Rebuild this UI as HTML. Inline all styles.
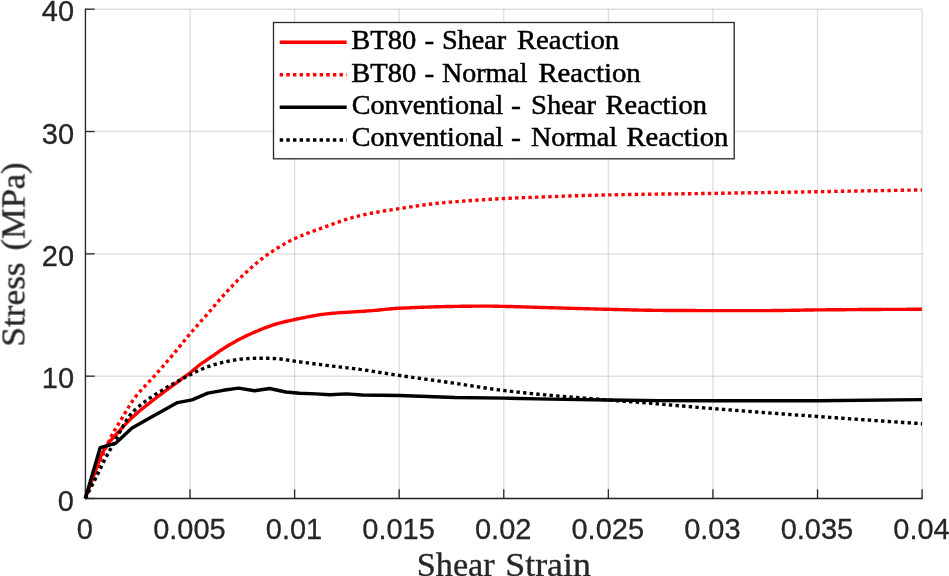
<!DOCTYPE html>
<html lang="en"><head><meta charset="utf-8"><title>Stress vs Shear Strain</title>
<style>
html,body{margin:0;padding:0;background:#fff;}
body{width:949px;height:576px;overflow:hidden;}
svg{display:block;}
.tick{font-family:"Liberation Sans",Arial,Helvetica,sans-serif;font-size:29px;fill:#262626;stroke:#262626;stroke-width:.3px;}
.lab{font-family:"Liberation Serif","Times New Roman",serif;font-size:34.7px;fill:#262626;stroke:#262626;stroke-width:.35px;}
.leg{font-family:"Liberation Serif","Times New Roman",serif;font-size:27.7px;fill:#000;stroke:#000;stroke-width:.5px;}
</style></head><body>
<svg width="949" height="576" viewBox="0 0 949 576">
<rect width="949" height="576" fill="#fff"/>
<g stroke="#262626" stroke-opacity=".15" stroke-width="1.4" fill="none">
<line x1="85.45" y1="9.2" x2="85.45" y2="498.5"/>
<line x1="190.03" y1="9.2" x2="190.03" y2="498.5"/>
<line x1="294.61" y1="9.2" x2="294.61" y2="498.5"/>
<line x1="399.19" y1="9.2" x2="399.19" y2="498.5"/>
<line x1="503.77" y1="9.2" x2="503.77" y2="498.5"/>
<line x1="608.36" y1="9.2" x2="608.36" y2="498.5"/>
<line x1="712.94" y1="9.2" x2="712.94" y2="498.5"/>
<line x1="817.52" y1="9.2" x2="817.52" y2="498.5"/>
<line x1="922.10" y1="9.2" x2="922.10" y2="498.5"/>
<line x1="85.45" y1="498.50" x2="922.1" y2="498.50"/>
<line x1="85.45" y1="376.18" x2="922.1" y2="376.18"/>
<line x1="85.45" y1="253.85" x2="922.1" y2="253.85"/>
<line x1="85.45" y1="131.52" x2="922.1" y2="131.52"/>
<line x1="85.45" y1="9.20" x2="922.1" y2="9.20"/>
</g>
<g stroke="#262626" stroke-width="1.3" fill="none" stroke-linecap="square">
<line x1="85.45" y1="9.2" x2="85.45" y2="498.5"/>
<line x1="85.45" y1="498.5" x2="922.1" y2="498.5"/>
</g>
<g stroke="#262626" stroke-width="1.3" fill="none">
<line x1="85.45" y1="498.5" x2="85.45" y2="489.30"/>
<line x1="190.03" y1="498.5" x2="190.03" y2="489.30"/>
<line x1="294.61" y1="498.5" x2="294.61" y2="489.30"/>
<line x1="399.19" y1="498.5" x2="399.19" y2="489.30"/>
<line x1="503.77" y1="498.5" x2="503.77" y2="489.30"/>
<line x1="608.36" y1="498.5" x2="608.36" y2="489.30"/>
<line x1="712.94" y1="498.5" x2="712.94" y2="489.30"/>
<line x1="817.52" y1="498.5" x2="817.52" y2="489.30"/>
<line x1="922.10" y1="498.5" x2="922.10" y2="489.30"/>
<line x1="85.45" y1="498.50" x2="94.65" y2="498.50"/>
<line x1="85.45" y1="376.18" x2="94.65" y2="376.18"/>
<line x1="85.45" y1="253.85" x2="94.65" y2="253.85"/>
<line x1="85.45" y1="131.52" x2="94.65" y2="131.52"/>
<line x1="85.45" y1="9.20" x2="94.65" y2="9.20"/>
</g>
<clipPath id="c"><rect x="82.45" y="9.2" width="839.65" height="492.3"/></clipPath>
<g clip-path="url(#c)" fill="none" stroke-linejoin="round">
<path d="M85.30,498.40 L87.40,492.63 L89.49,486.90 L91.59,481.21 L93.69,475.57 L95.79,469.97 L96.00,469.40 L97.88,464.15 L99.98,458.26 L102.08,453.15 L102.60,452.10 L104.18,449.33 L106.27,446.18 L108.37,443.37 L108.50,443.20 L110.47,440.73 L112.56,438.30 L114.66,435.99 L116.76,433.76 L118.86,431.54 L120.00,430.30 L120.95,429.26 L123.05,426.94 L125.15,424.64 L127.24,422.38 L129.34,420.21 L131.30,418.30 L131.44,418.17 L133.54,416.23 L135.63,414.36 L137.73,412.54 L139.83,410.78 L141.93,409.05 L144.02,407.36 L146.12,405.70 L148.22,404.05 L150.31,402.42 L152.41,400.78 L154.51,399.15 L154.70,399.00 L156.61,397.52 L158.70,395.92 L160.80,394.34 L162.90,392.78 L165.00,391.23 L167.09,389.69 L169.19,388.15 L171.29,386.60 L172.10,386.00 L173.38,385.05 L175.48,383.53 L177.58,382.01 L179.68,380.51 L181.77,378.99 L183.87,377.47 L185.97,375.92 L188.06,374.34 L189.80,373.00 L190.16,372.72 L192.26,371.00 L194.36,369.21 L196.45,367.43 L198.55,365.71 L200.00,364.60 L200.65,364.13 L202.75,362.68 L204.84,361.30 L206.80,360.00 L206.94,359.91 L209.04,358.47 L211.13,357.02 L213.23,355.56 L215.33,354.09 L217.43,352.63 L219.52,351.19 L221.62,349.78 L223.72,348.40 L225.82,347.07 L227.90,345.80 L227.91,345.79 L230.01,344.56 L232.11,343.35 L234.20,342.16 L236.30,340.99 L238.40,339.86 L240.50,338.75 L242.59,337.68 L244.69,336.64 L246.79,335.64 L248.60,334.80 L248.88,334.67 L250.98,333.73 L253.08,332.79 L255.18,331.87 L257.27,330.97 L259.37,330.09 L261.47,329.22 L263.57,328.39 L265.66,327.58 L267.76,326.79 L269.86,326.04 L271.95,325.33 L274.05,324.64 L276.15,324.00 L276.50,323.90 L278.25,323.40 L280.34,322.83 L282.44,322.28 L284.54,321.77 L286.64,321.27 L288.73,320.79 L290.83,320.33 L292.93,319.89 L294.80,319.50 L295.02,319.45 L297.12,319.02 L299.22,318.59 L301.32,318.16 L303.41,317.73 L305.51,317.30 L307.61,316.89 L309.71,316.48 L311.80,316.09 L313.90,315.71 L316.00,315.35 L318.09,315.01 L320.19,314.68 L322.29,314.38 L324.39,314.11 L326.48,313.86 L328.00,313.70 L328.58,313.64 L330.68,313.44 L332.77,313.26 L334.87,313.08 L336.97,312.92 L339.07,312.76 L341.16,312.62 L343.26,312.48 L345.36,312.35 L347.46,312.22 L349.55,312.09 L351.65,311.97 L353.75,311.85 L355.84,311.73 L357.94,311.61 L360.04,311.48 L362.14,311.35 L364.23,311.21 L366.33,311.07 L368.43,310.92 L370.00,310.80 L370.53,310.76 L372.62,310.59 L374.72,310.40 L376.82,310.20 L378.91,310.00 L381.01,309.79 L383.11,309.59 L385.21,309.38 L387.30,309.18 L389.40,308.99 L391.50,308.81 L393.59,308.64 L395.69,308.49 L397.79,308.36 L398.90,308.30 L399.89,308.25 L401.98,308.14 L404.08,308.04 L406.18,307.94 L408.28,307.84 L410.37,307.75 L412.47,307.66 L414.57,307.57 L416.66,307.48 L418.76,307.39 L420.86,307.31 L422.96,307.23 L425.05,307.15 L427.15,307.08 L429.25,307.01 L431.35,306.94 L433.44,306.88 L435.54,306.82 L437.64,306.76 L439.73,306.70 L441.83,306.65 L443.93,306.60 L446.03,306.55 L448.12,306.51 L450.22,306.47 L452.32,306.44 L454.41,306.41 L454.80,306.40 L456.51,306.38 L458.61,306.35 L460.71,306.32 L462.80,306.29 L464.90,306.26 L467.00,306.24 L469.10,306.21 L471.19,306.19 L473.29,306.17 L475.39,306.15 L477.48,306.13 L479.58,306.12 L481.68,306.11 L483.78,306.10 L485.87,306.10 L486.50,306.10 L487.97,306.10 L490.07,306.12 L492.17,306.15 L494.26,306.19 L496.36,306.23 L498.46,306.28 L500.55,306.33 L502.65,306.38 L503.80,306.40 L504.75,306.42 L506.85,306.47 L508.94,306.52 L511.04,306.57 L513.14,306.62 L515.23,306.68 L517.33,306.73 L519.43,306.79 L521.53,306.85 L523.62,306.92 L525.72,306.98 L527.82,307.04 L529.92,307.11 L532.01,307.17 L534.11,307.24 L536.21,307.30 L538.30,307.36 L540.40,307.43 L542.50,307.49 L544.60,307.55 L546.69,307.61 L548.79,307.67 L549.70,307.70 L550.89,307.73 L552.99,307.79 L555.08,307.85 L557.18,307.91 L559.28,307.97 L561.37,308.03 L563.47,308.09 L565.57,308.15 L567.67,308.21 L569.76,308.27 L571.86,308.33 L573.96,308.39 L576.05,308.45 L578.15,308.51 L580.25,308.57 L582.35,308.62 L584.44,308.68 L586.54,308.74 L588.64,308.80 L590.74,308.85 L592.83,308.91 L594.93,308.97 L597.03,309.02 L599.12,309.08 L601.22,309.13 L603.32,309.18 L605.42,309.23 L607.51,309.28 L608.20,309.30 L609.61,309.33 L611.71,309.39 L613.81,309.44 L615.90,309.49 L618.00,309.55 L620.10,309.60 L622.19,309.66 L624.29,309.71 L626.39,309.77 L628.49,309.82 L630.58,309.88 L632.68,309.93 L634.78,309.98 L636.87,310.03 L638.97,310.08 L641.07,310.12 L643.17,310.17 L645.26,310.21 L647.36,310.24 L649.46,310.28 L651.56,310.31 L653.65,310.34 L655.75,310.36 L657.85,310.38 L659.94,310.40 L660.00,310.40 L662.04,310.41 L664.14,310.43 L666.24,310.44 L668.33,310.45 L670.43,310.46 L672.53,310.48 L674.63,310.49 L676.72,310.50 L678.82,310.51 L680.92,310.52 L683.01,310.53 L685.11,310.54 L687.21,310.55 L689.31,310.55 L691.40,310.56 L693.50,310.57 L695.60,310.57 L697.69,310.58 L699.79,310.58 L701.89,310.59 L703.99,310.59 L706.08,310.60 L708.18,310.60 L710.28,310.60 L712.38,310.60 L713.00,310.60 L714.47,310.60 L716.57,310.60 L718.67,310.60 L720.76,310.60 L722.86,310.60 L724.96,310.60 L727.06,310.60 L729.15,310.60 L731.25,310.60 L733.35,310.60 L735.45,310.60 L737.54,310.60 L739.64,310.60 L741.74,310.60 L743.83,310.60 L745.93,310.60 L748.03,310.60 L750.13,310.60 L752.22,310.60 L754.32,310.60 L756.42,310.60 L758.52,310.60 L760.61,310.60 L762.71,310.60 L764.81,310.60 L766.50,310.60 L766.90,310.60 L769.00,310.60 L771.10,310.59 L773.20,310.57 L775.29,310.56 L777.39,310.53 L779.49,310.51 L781.58,310.48 L783.68,310.45 L785.78,310.42 L787.88,310.38 L789.97,310.34 L792.07,310.30 L794.17,310.27 L796.27,310.23 L798.36,310.19 L800.46,310.15 L802.56,310.11 L804.65,310.07 L806.75,310.04 L808.85,310.01 L810.95,309.98 L813.04,309.95 L815.14,309.92 L817.24,309.90 L817.70,309.90 L819.34,309.89 L821.43,309.87 L823.53,309.85 L825.63,309.83 L827.72,309.82 L829.82,309.80 L831.92,309.78 L834.02,309.76 L836.11,309.75 L838.21,309.73 L840.31,309.71 L842.40,309.69 L844.50,309.68 L846.60,309.66 L848.70,309.65 L850.79,309.63 L852.89,309.61 L854.99,309.60 L857.09,309.58 L859.18,309.57 L861.28,309.55 L863.38,309.54 L865.47,309.52 L867.57,309.51 L869.67,309.50 L871.77,309.48 L873.86,309.47 L875.96,309.46 L878.06,309.45 L880.16,309.43 L882.25,309.42 L884.35,309.41 L886.45,309.40 L888.54,309.39 L890.64,309.38 L892.74,309.37 L894.84,309.36 L896.93,309.35 L899.03,309.35 L901.13,309.34 L903.22,309.33 L905.32,309.33 L907.42,309.32 L909.52,309.32 L911.61,309.31 L913.71,309.31 L915.81,309.31 L917.91,309.30 L920.00,309.30 L922.10,309.30" stroke="#ff0000" stroke-width="3.4"/>
<path d="M85.30,498.40 L87.40,492.97 L89.49,487.60 L91.59,482.31 L93.69,477.12 L95.79,472.01 L96.00,471.50 L97.88,466.95 L99.98,461.84 L102.08,456.77 L104.18,451.77 L106.27,446.92 L108.37,442.27 L110.47,437.89 L112.10,434.70 L112.56,433.84 L114.66,430.18 L116.76,426.78 L118.86,423.45 L120.00,421.60 L120.95,420.02 L123.05,416.46 L125.15,412.86 L127.24,409.29 L129.34,405.82 L131.44,402.53 L133.54,399.49 L133.90,399.00 L135.63,396.73 L137.73,394.13 L139.83,391.68 L141.93,389.33 L144.02,387.05 L146.12,384.83 L148.22,382.62 L150.31,380.41 L152.41,378.15 L154.51,375.82 L154.70,375.60 L156.61,373.43 L158.70,371.05 L160.80,368.66 L162.90,366.27 L165.00,363.86 L167.09,361.45 L169.19,359.01 L171.29,356.56 L172.10,355.60 L173.38,354.08 L175.48,351.55 L177.58,349.00 L179.68,346.43 L181.77,343.85 L183.87,341.27 L185.97,338.71 L188.06,336.18 L189.90,334.00 L190.16,333.69 L192.26,331.24 L194.36,328.82 L196.45,326.43 L198.55,324.05 L200.65,321.67 L202.75,319.30 L204.84,316.92 L206.94,314.53 L209.04,312.12 L210.60,310.30 L211.13,309.67 L213.23,307.17 L215.33,304.64 L217.43,302.14 L219.10,300.20 L219.52,299.72 L221.62,297.36 L223.72,295.04 L225.82,292.75 L227.91,290.50 L229.80,288.50 L230.01,288.28 L232.11,286.07 L234.20,283.87 L236.30,281.71 L238.40,279.61 L240.50,277.59 L240.80,277.30 L242.59,275.62 L244.69,273.68 L246.79,271.74 L248.88,269.83 L250.98,267.95 L253.08,266.09 L255.18,264.27 L257.27,262.50 L259.37,260.76 L261.47,259.08 L263.57,257.45 L265.66,255.89 L267.76,254.38 L268.60,253.80 L269.86,252.94 L271.95,251.54 L274.05,250.17 L276.15,248.83 L278.25,247.54 L280.34,246.27 L282.44,245.05 L284.54,243.86 L286.64,242.71 L288.73,241.60 L290.83,240.53 L292.93,239.49 L294.60,238.70 L295.02,238.50 L297.12,237.55 L299.22,236.63 L301.32,235.74 L303.41,234.88 L305.51,234.05 L307.61,233.24 L309.71,232.44 L311.80,231.66 L313.90,230.90 L316.00,230.15 L318.09,229.40 L320.19,228.66 L322.29,227.91 L324.30,227.20 L324.39,227.17 L326.48,226.42 L328.58,225.66 L330.68,224.90 L332.77,224.14 L334.87,223.38 L336.97,222.63 L339.07,221.88 L341.16,221.15 L343.26,220.43 L345.36,219.73 L347.46,219.06 L349.55,218.40 L351.65,217.77 L353.75,217.17 L355.84,216.61 L357.94,216.08 L359.10,215.80 L360.04,215.58 L362.14,215.11 L364.23,214.66 L366.33,214.22 L368.43,213.79 L370.53,213.38 L372.62,212.98 L374.72,212.60 L376.82,212.22 L378.91,211.85 L381.01,211.50 L383.11,211.15 L385.21,210.80 L387.30,210.47 L389.40,210.14 L391.50,209.81 L393.59,209.48 L395.69,209.16 L397.79,208.83 L399.30,208.60 L399.89,208.51 L401.98,208.19 L404.08,207.86 L406.18,207.54 L408.28,207.22 L410.37,206.90 L412.47,206.59 L414.57,206.28 L416.66,205.97 L418.76,205.67 L420.86,205.37 L422.96,205.08 L425.05,204.80 L427.15,204.52 L429.25,204.25 L431.35,204.00 L433.44,203.74 L435.54,203.50 L437.64,203.27 L439.73,203.06 L441.30,202.90 L441.83,202.85 L443.93,202.65 L446.03,202.46 L448.12,202.27 L450.22,202.09 L452.32,201.92 L454.41,201.75 L456.51,201.58 L458.61,201.42 L460.71,201.27 L462.80,201.12 L464.90,200.97 L467.00,200.82 L469.10,200.68 L471.19,200.53 L473.29,200.39 L475.39,200.25 L477.48,200.11 L479.20,200.00 L479.58,199.97 L481.68,199.84 L483.78,199.70 L485.87,199.57 L487.97,199.44 L490.07,199.31 L492.17,199.18 L494.26,199.06 L496.36,198.94 L498.46,198.82 L500.55,198.71 L502.65,198.60 L504.50,198.50 L504.75,198.49 L506.85,198.38 L508.94,198.28 L511.04,198.18 L513.14,198.09 L515.23,198.00 L517.33,197.91 L519.43,197.82 L520.00,197.80 L521.53,197.74 L523.62,197.66 L525.72,197.58 L527.82,197.49 L529.92,197.41 L532.01,197.33 L534.11,197.25 L536.21,197.17 L538.30,197.09 L540.40,197.01 L542.50,196.93 L544.60,196.85 L546.69,196.77 L548.79,196.69 L550.89,196.61 L552.99,196.54 L555.08,196.46 L557.18,196.39 L559.28,196.31 L561.37,196.24 L563.47,196.17 L565.57,196.10 L567.67,196.02 L569.76,195.96 L571.86,195.89 L573.96,195.82 L576.05,195.75 L578.15,195.69 L580.25,195.62 L582.35,195.56 L584.44,195.50 L586.54,195.44 L588.64,195.38 L590.74,195.32 L592.83,195.27 L594.93,195.22 L597.03,195.16 L599.12,195.11 L601.22,195.06 L603.32,195.01 L605.42,194.97 L607.51,194.92 L608.70,194.90 L609.61,194.88 L611.71,194.84 L613.81,194.80 L615.90,194.76 L618.00,194.72 L620.10,194.68 L622.19,194.65 L624.29,194.61 L626.39,194.58 L628.49,194.54 L630.58,194.51 L632.68,194.48 L634.78,194.44 L636.87,194.41 L638.97,194.38 L641.07,194.35 L643.17,194.32 L645.26,194.29 L647.36,194.26 L649.46,194.23 L651.56,194.21 L653.65,194.18 L655.75,194.15 L657.85,194.12 L659.94,194.10 L662.04,194.07 L664.14,194.04 L666.24,194.02 L668.33,193.99 L670.43,193.97 L672.53,193.94 L674.63,193.91 L676.72,193.89 L678.82,193.86 L680.92,193.84 L683.01,193.81 L685.11,193.78 L687.21,193.76 L689.31,193.73 L691.40,193.70 L693.50,193.67 L695.60,193.65 L697.69,193.62 L699.79,193.59 L701.89,193.56 L703.99,193.53 L706.08,193.50 L708.18,193.47 L710.28,193.44 L712.38,193.41 L713.00,193.40 L714.47,193.38 L716.57,193.35 L718.67,193.31 L720.76,193.28 L722.86,193.25 L724.96,193.22 L727.06,193.18 L729.15,193.15 L731.25,193.12 L733.35,193.08 L735.45,193.05 L737.54,193.02 L739.64,192.98 L741.74,192.95 L743.83,192.92 L745.93,192.88 L748.03,192.85 L750.13,192.81 L752.22,192.78 L754.32,192.75 L756.42,192.71 L758.52,192.68 L760.61,192.64 L762.71,192.61 L764.81,192.57 L766.90,192.54 L769.00,192.50 L771.10,192.47 L773.20,192.43 L775.29,192.40 L777.39,192.37 L779.49,192.33 L781.58,192.30 L783.68,192.26 L785.78,192.23 L787.88,192.19 L789.97,192.16 L792.07,192.12 L794.17,192.09 L796.27,192.05 L798.36,192.02 L800.46,191.98 L802.56,191.95 L804.65,191.91 L806.75,191.87 L808.85,191.84 L810.95,191.80 L813.04,191.77 L815.14,191.73 L817.20,191.70 L817.24,191.70 L819.34,191.66 L821.43,191.63 L823.53,191.59 L825.63,191.56 L827.72,191.52 L829.82,191.49 L831.92,191.45 L834.02,191.42 L836.11,191.38 L838.21,191.35 L840.31,191.31 L842.40,191.28 L844.50,191.24 L846.60,191.20 L848.70,191.17 L850.79,191.13 L852.89,191.10 L854.99,191.06 L857.09,191.03 L859.18,190.99 L861.28,190.95 L863.38,190.92 L865.47,190.88 L867.57,190.85 L869.67,190.81 L871.77,190.77 L873.86,190.74 L875.96,190.70 L878.06,190.67 L880.16,190.63 L882.25,190.59 L884.35,190.56 L886.45,190.52 L888.54,190.49 L890.64,190.45 L892.74,190.41 L894.84,190.38 L896.93,190.34 L899.03,190.30 L901.13,190.27 L903.22,190.23 L905.32,190.19 L907.42,190.16 L909.52,190.12 L911.61,190.08 L913.71,190.05 L915.81,190.01 L917.91,189.97 L920.00,189.94 L922.10,189.90" stroke="#ff0000" stroke-width="3.4" stroke-dasharray="3.4 3.25"/>
<path d="M85.30,498.40 L100.20,447.60 L115.70,443.30 L131.70,428.20 L147.00,419.60 L162.30,411.00 L177.50,402.60 L192.00,399.90 L207.80,393.10 L223.30,390.30 L238.50,388.10 L254.50,390.80 L269.50,388.50 L285.80,392.00 L299.70,393.20 L315.90,393.90 L329.80,394.80 L346.00,393.90 L362.30,395.00 L380.80,395.30 L399.40,395.50 L420.00,396.20 L454.80,397.50 L503.80,398.10 L549.70,399.10 L608.20,400.00 L660.00,400.60 L713.00,400.80 L817.70,400.70 L922.10,399.60" stroke="#000" stroke-width="3.4"/>
<path d="M85.30,498.40 L87.40,494.36 L89.49,490.28 L91.59,486.18 L93.69,482.06 L95.79,477.91 L97.40,474.70 L97.88,473.73 L99.98,469.45 L102.08,465.12 L104.18,460.86 L106.00,457.30 L106.27,456.78 L108.37,452.92 L110.47,449.20 L112.56,445.51 L114.66,441.77 L114.70,441.70 L116.76,437.88 L118.86,433.89 L120.95,429.92 L123.05,426.09 L125.10,422.60 L125.15,422.52 L127.24,419.14 L129.34,416.04 L130.40,414.70 L131.44,413.51 L133.54,411.27 L135.63,409.24 L137.73,407.37 L139.83,405.61 L141.93,403.93 L142.60,403.40 L144.02,402.30 L146.12,400.73 L148.22,399.22 L150.31,397.77 L152.41,396.37 L154.51,395.01 L156.61,393.67 L158.70,392.37 L160.80,391.08 L162.90,389.81 L163.40,389.50 L165.00,388.54 L167.09,387.28 L169.19,386.05 L171.29,384.83 L173.38,383.63 L175.48,382.45 L177.58,381.29 L179.68,380.14 L181.77,379.02 L183.87,377.91 L185.97,376.83 L188.06,375.76 L189.80,374.90 L190.16,374.72 L192.26,373.68 L194.36,372.63 L196.45,371.60 L198.55,370.59 L200.65,369.62 L202.75,368.69 L204.84,367.81 L206.94,367.01 L208.40,366.50 L209.04,366.29 L211.13,365.60 L213.23,364.95 L215.33,364.32 L217.43,363.73 L219.52,363.16 L221.62,362.63 L223.72,362.13 L225.82,361.67 L227.91,361.25 L228.70,361.10 L230.01,360.86 L232.11,360.47 L234.20,360.10 L236.30,359.75 L238.40,359.43 L240.50,359.16 L242.59,358.94 L244.50,358.80 L244.69,358.79 L246.79,358.67 L248.88,358.55 L250.98,358.44 L253.08,358.35 L255.18,358.28 L257.27,358.23 L259.37,358.20 L260.30,358.20 L261.47,358.20 L263.57,358.22 L265.66,358.26 L267.76,358.30 L269.86,358.37 L271.95,358.44 L274.05,358.52 L276.10,358.60 L276.15,358.60 L278.25,358.74 L280.34,358.95 L282.44,359.22 L284.54,359.54 L286.64,359.88 L288.73,360.24 L290.83,360.59 L292.93,360.92 L294.20,361.10 L295.02,361.21 L297.12,361.50 L299.22,361.78 L301.32,362.07 L303.41,362.35 L305.51,362.64 L307.61,362.92 L309.71,363.21 L311.80,363.49 L313.90,363.77 L316.00,364.05 L318.09,364.32 L320.19,364.60 L322.29,364.87 L324.39,365.14 L326.48,365.41 L328.00,365.60 L328.58,365.67 L330.68,365.93 L332.77,366.18 L334.87,366.43 L336.97,366.67 L339.07,366.91 L341.16,367.15 L343.26,367.38 L345.36,367.62 L347.46,367.86 L349.55,368.10 L351.65,368.35 L353.75,368.60 L355.84,368.86 L357.94,369.13 L360.00,369.40 L360.04,369.41 L362.14,369.69 L364.23,369.99 L366.33,370.29 L368.43,370.60 L370.53,370.92 L372.62,371.25 L374.72,371.58 L376.82,371.91 L378.91,372.24 L381.01,372.58 L383.11,372.92 L385.21,373.26 L387.30,373.60 L389.40,373.93 L391.50,374.27 L393.59,374.59 L395.69,374.92 L397.79,375.23 L398.90,375.40 L399.89,375.55 L401.98,375.85 L404.08,376.16 L406.18,376.46 L408.28,376.76 L410.37,377.06 L412.47,377.36 L414.57,377.66 L416.66,377.95 L418.76,378.25 L420.86,378.54 L422.96,378.83 L425.05,379.13 L427.15,379.42 L429.25,379.71 L431.35,380.00 L433.44,380.29 L435.54,380.58 L437.64,380.88 L439.73,381.17 L441.83,381.46 L443.93,381.75 L446.03,382.05 L448.12,382.35 L450.22,382.64 L452.32,382.94 L454.41,383.24 L454.80,383.30 L456.51,383.55 L458.61,383.86 L460.71,384.17 L462.80,384.49 L464.90,384.81 L467.00,385.13 L469.10,385.45 L471.19,385.78 L473.29,386.11 L475.39,386.43 L477.48,386.76 L479.58,387.08 L481.68,387.40 L483.78,387.72 L485.87,388.03 L487.97,388.35 L490.07,388.65 L492.17,388.95 L494.26,389.25 L496.36,389.54 L498.46,389.82 L500.55,390.09 L502.65,390.36 L503.80,390.50 L504.75,390.62 L506.85,390.87 L508.94,391.12 L511.04,391.36 L513.14,391.60 L515.23,391.84 L517.33,392.07 L519.43,392.30 L521.53,392.53 L523.62,392.75 L525.72,392.97 L527.82,393.19 L529.92,393.40 L532.01,393.61 L534.11,393.82 L536.21,394.03 L538.30,394.23 L540.40,394.43 L542.50,394.63 L544.60,394.83 L546.69,395.02 L548.79,395.22 L549.70,395.30 L550.89,395.41 L552.99,395.60 L555.08,395.78 L557.18,395.97 L559.28,396.15 L561.37,396.33 L563.47,396.50 L565.57,396.68 L567.67,396.85 L569.76,397.02 L571.86,397.19 L573.96,397.36 L576.05,397.52 L578.15,397.69 L580.25,397.85 L582.35,398.02 L584.44,398.18 L586.54,398.34 L588.64,398.50 L590.74,398.66 L592.83,398.82 L594.93,398.98 L597.03,399.14 L599.12,399.30 L601.22,399.46 L603.32,399.62 L605.42,399.78 L607.51,399.95 L608.20,400.00 L609.61,400.11 L611.71,400.27 L613.81,400.43 L615.90,400.59 L618.00,400.74 L620.10,400.90 L622.19,401.05 L624.29,401.21 L626.39,401.36 L628.49,401.52 L630.58,401.68 L632.68,401.83 L634.78,401.99 L636.87,402.15 L638.97,402.32 L640.00,402.40 L641.07,402.49 L643.17,402.65 L645.26,402.82 L647.36,402.99 L649.46,403.17 L651.56,403.34 L653.65,403.52 L655.75,403.70 L657.85,403.87 L659.94,404.05 L662.04,404.23 L664.14,404.41 L666.24,404.60 L668.33,404.78 L670.43,404.96 L672.53,405.14 L674.63,405.33 L676.72,405.51 L678.82,405.69 L680.92,405.88 L683.01,406.06 L685.11,406.24 L687.21,406.43 L689.31,406.61 L691.40,406.79 L693.50,406.97 L695.60,407.15 L697.69,407.33 L699.79,407.51 L701.89,407.69 L703.99,407.86 L706.08,408.04 L708.18,408.21 L710.28,408.38 L712.38,408.55 L713.00,408.60 L714.47,408.72 L716.57,408.89 L718.67,409.05 L720.76,409.22 L722.86,409.39 L724.96,409.55 L727.06,409.72 L729.15,409.88 L731.25,410.04 L733.35,410.21 L735.45,410.37 L737.54,410.53 L739.64,410.70 L741.74,410.86 L743.83,411.02 L745.93,411.18 L748.03,411.34 L750.13,411.50 L752.22,411.66 L754.32,411.82 L756.42,411.98 L758.52,412.14 L760.61,412.30 L762.71,412.46 L764.81,412.62 L766.90,412.77 L769.00,412.93 L771.10,413.09 L773.20,413.24 L775.29,413.40 L777.39,413.56 L779.49,413.71 L781.58,413.87 L783.68,414.02 L785.78,414.18 L787.88,414.33 L789.97,414.48 L792.07,414.64 L794.17,414.79 L796.27,414.95 L798.36,415.10 L800.46,415.25 L802.56,415.40 L804.65,415.56 L806.75,415.71 L808.85,415.86 L810.95,416.01 L813.04,416.16 L815.14,416.32 L817.24,416.47 L817.70,416.50 L819.34,416.62 L821.43,416.77 L823.53,416.92 L825.63,417.07 L827.72,417.22 L829.82,417.37 L831.92,417.52 L834.02,417.67 L836.11,417.82 L838.21,417.97 L840.31,418.11 L842.40,418.26 L844.50,418.41 L846.60,418.56 L848.70,418.71 L850.79,418.85 L852.89,419.00 L854.99,419.15 L857.09,419.29 L859.18,419.44 L861.28,419.59 L863.38,419.73 L865.47,419.88 L867.57,420.02 L869.67,420.17 L871.77,420.31 L873.86,420.46 L875.96,420.60 L878.06,420.74 L880.16,420.89 L882.25,421.03 L884.35,421.17 L886.45,421.32 L888.54,421.46 L890.64,421.60 L892.74,421.74 L894.84,421.88 L896.93,422.03 L899.03,422.17 L901.13,422.31 L903.22,422.45 L905.32,422.59 L907.42,422.73 L909.52,422.87 L911.61,423.01 L913.71,423.15 L915.81,423.29 L917.91,423.42 L920.00,423.56 L922.10,423.70" stroke="#000" stroke-width="3.4" stroke-dasharray="3.4 3.25"/>
</g>
<g class="tick" style="will-change:transform">
<text transform="translate(84.85,539.3) scale(1,1.015)" text-anchor="middle">0</text>
<text transform="translate(189.43,539.3) scale(1,1.015)" text-anchor="middle">0.005</text>
<text transform="translate(294.01,539.3) scale(1,1.015)" text-anchor="middle">0.01</text>
<text transform="translate(398.59,539.3) scale(1,1.015)" text-anchor="middle">0.015</text>
<text transform="translate(503.17,539.3) scale(1,1.015)" text-anchor="middle">0.02</text>
<text transform="translate(607.76,539.3) scale(1,1.015)" text-anchor="middle">0.025</text>
<text transform="translate(712.34,539.3) scale(1,1.015)" text-anchor="middle">0.03</text>
<text transform="translate(816.92,539.3) scale(1,1.015)" text-anchor="middle">0.035</text>
<text transform="translate(921.50,539.3) scale(1,1.015)" text-anchor="middle">0.04</text>
<text transform="translate(74.0,510.55) scale(1,1.015)" text-anchor="end">0</text>
<text transform="translate(74.0,388.23) scale(1,1.015)" text-anchor="end">10</text>
<text transform="translate(74.0,265.90) scale(1,1.015)" text-anchor="end">20</text>
<text transform="translate(74.0,143.57) scale(1,1.015)" text-anchor="end">30</text>
<text transform="translate(74.0,21.25) scale(1,1.015)" text-anchor="end">40</text>
</g>
<g class="lab" style="will-change:transform">
<text><tspan x="416.8" y="575.5" textLength="77.9" lengthAdjust="spacingAndGlyphs">Shear</tspan> <tspan x="505.3" y="575.5" textLength="85.5" lengthAdjust="spacingAndGlyphs">Strain</tspan></text>
<text transform="translate(24.5,344.7) rotate(-90)"><tspan x="-1.9" y="0.0" textLength="84.2" lengthAdjust="spacingAndGlyphs">Stress</tspan> <tspan x="94.3" y="0.0" textLength="88.0" lengthAdjust="spacingAndGlyphs">(MPa)</tspan></text>
</g>
<rect x="273.5" y="22.5" width="460.7" height="136.3" fill="#fff" stroke="#262626" stroke-width="1.3"/>
<line x1="279.7" y1="42.2" x2="346.7" y2="42.2" stroke="#ff0000" stroke-width="3.4"/>
<line x1="279.7" y1="74.7" x2="346.7" y2="74.7" stroke="#ff0000" stroke-width="3.4" stroke-dasharray="3.4 3.25"/>
<line x1="279.7" y1="107.2" x2="346.7" y2="107.2" stroke="#000" stroke-width="3.4"/>
<line x1="279.7" y1="140.0" x2="346.7" y2="140.0" stroke="#000" stroke-width="3.4" stroke-dasharray="3.4 3.25"/>
<g class="leg" style="will-change:transform">
<text><tspan x="351.2" y="48.9" textLength="65.0" lengthAdjust="spacingAndGlyphs">BT80</tspan> <tspan x="424.6" y="48.9" textLength="9.7" lengthAdjust="spacingAndGlyphs">-</tspan> <tspan x="441.9" y="48.9" textLength="64.4" lengthAdjust="spacingAndGlyphs">Shear</tspan> <tspan x="516.9" y="48.9" textLength="102.3" lengthAdjust="spacingAndGlyphs">Reaction</tspan></text>
<text><tspan x="351.2" y="81.5" textLength="65.0" lengthAdjust="spacingAndGlyphs">BT80</tspan> <tspan x="424.6" y="81.5" textLength="9.7" lengthAdjust="spacingAndGlyphs">-</tspan> <tspan x="441.9" y="81.5" textLength="85.6" lengthAdjust="spacingAndGlyphs">Normal</tspan> <tspan x="538.4" y="81.5" textLength="102.3" lengthAdjust="spacingAndGlyphs">Reaction</tspan></text>
<text><tspan x="351.8" y="114.0" textLength="151.5" lengthAdjust="spacingAndGlyphs">Conventional</tspan> <tspan x="511.1" y="114.0" textLength="9.9" lengthAdjust="spacingAndGlyphs">-</tspan> <tspan x="531.0" y="114.0" textLength="65.0" lengthAdjust="spacingAndGlyphs">Shear</tspan> <tspan x="605.6" y="114.0" textLength="101.3" lengthAdjust="spacingAndGlyphs">Reaction</tspan></text>
<text><tspan x="351.8" y="146.3" textLength="151.5" lengthAdjust="spacingAndGlyphs">Conventional</tspan> <tspan x="511.1" y="146.3" textLength="9.9" lengthAdjust="spacingAndGlyphs">-</tspan> <tspan x="531.0" y="146.3" textLength="86.0" lengthAdjust="spacingAndGlyphs">Normal</tspan> <tspan x="626.5" y="146.3" textLength="101.9" lengthAdjust="spacingAndGlyphs">Reaction</tspan></text>
</g>
</svg></body></html>
